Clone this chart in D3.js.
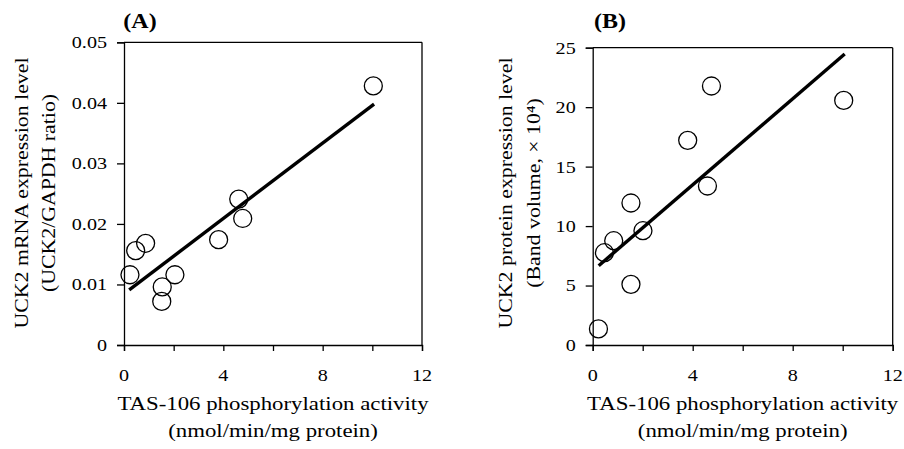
<!DOCTYPE html>
<html>
<head>
<meta charset="utf-8">
<script src="https://cdn.jsdelivr.net/npm/d3@7"></script>
<style>
  html, body { margin: 0; padding: 0; background: #fff; }
  svg { display: block; }
  text { font-family: "Liberation Serif", "Times New Roman", serif; fill: #000; }
</style>
</head>
<body>
<svg id="chart" width="904" height="449"></svg>
<script>
// ---- data ----
const activityA = [0.24, 0.47, 0.87, 1.54, 1.52, 2.05, 3.81, 4.62, 4.78, 10.04];
const mrnaA     = [0.0116, 0.0156, 0.0168, 0.0096, 0.0072, 0.0116, 0.0174, 0.0241, 0.0209, 0.0428];
const fitXA = [0.21, 10.07];
const fitYA = [0.0091, 0.0398];

const activityB = [0.23, 0.47, 0.84, 1.53, 1.53, 2.01, 3.80, 4.59, 4.75, 10.04];
const proteinB  = [1.35, 7.76, 8.77, 11.94, 5.10, 9.61, 17.21, 13.37, 21.78, 20.57];
const fitXB = [0.24, 10.08];
const fitYB = [6.67, 24.47];

const xTicks = [0, 2, 4, 6, 8, 10, 12];
const xTickLabels = ["0", "", "4", "", "8", "", "12"];
const yTicksA = [0, 0.01, 0.02, 0.03, 0.04, 0.05];
const yTickLabelsA = ["0", "0.01", "0.02", "0.03", "0.04", "0.05"];
const yTicksB = [0, 5, 10, 15, 20, 25];
const yTickLabelsB = ["0", "5", "10", "15", "20", "25"];

const panelLabels = ["(A)", "(B)"];
const xTitle = ["TAS-106 phosphorylation activity", "(nmol/min/mg protein)"];
const yTitleA = ["UCK2 mRNA expression level", "(UCK2/GAPDH ratio)"];
const yTitleB = ["UCK2 protein expression level", "(Band volume, \u00d7 10\u2074)"];

// ---- drawing ----
const svg = d3.select("#chart");

function label(g, str, x, y, opts) {
  const o = Object.assign({size: 17, sx: 1.15, rot: 0, anchor: "middle", weight: "normal", dy: 0}, opts || {});
  g.append("text")
    .attr("transform", `translate(${x},${y}) rotate(${o.rot}) scale(${o.sx},1)`)
    .attr("text-anchor", o.anchor)
    .attr("dy", o.dy)
    .style("font-size", o.size + "px")
    .style("font-weight", o.weight)
    .text(str);
}

function panel(cfg) {
  const g = svg.append("g");
  const x = d3.scaleLinear().domain([0, 12]).range([cfg.left, cfg.right]);
  const y = d3.scaleLinear().domain(cfg.yDomain).range([cfg.bottom, cfg.top]);

  // frame top & right
  g.append("line").attr("x1", cfg.left).attr("x2", cfg.right).attr("y1", cfg.top).attr("y2", cfg.top)
    .attr("stroke", "#000").attr("stroke-width", 1.3);
  g.append("line").attr("x1", cfg.right).attr("x2", cfg.right).attr("y1", cfg.top).attr("y2", cfg.bottom)
    .attr("stroke", "#000").attr("stroke-width", 1.3);

  // axes
  const xAxis = d3.axisBottom(x).tickValues(xTicks).tickSize(6).tickFormat("");
  const yAxis = d3.axisLeft(y).tickValues(cfg.yTicks).tickSize(7).tickFormat("");
  const gx = g.append("g").attr("transform", `translate(0,${cfg.bottom})`).call(xAxis);
  const gy = g.append("g").attr("transform", `translate(${cfg.left},0)`).call(yAxis);
  [gx, gy].forEach(a => {
    a.select(".domain").attr("stroke", "#000").attr("stroke-width", 1.3);
    a.selectAll(".tick line").attr("stroke", "#000").attr("stroke-width", 1.3);
  });

  // tick labels
  xTicks.forEach((v, i) => {
    if (xTickLabels[i]) label(g, xTickLabels[i], x(v), 381, {size: 17.5, sx: 1.15});
  });
  cfg.yTicks.forEach((v, i) => {
    label(g, cfg.yTickLabels[i], cfg.left - 17, y(v), {size: 17.5, sx: 1.15, anchor: "end", dy: "0.34em"});
  });

  // regression line
  const lineGen = d3.line().x(d => x(d[0])).y(d => y(d[1]));
  g.append("path")
    .datum(d3.zip(cfg.fitX, cfg.fitY))
    .attr("d", lineGen)
    .attr("fill", "none").attr("stroke", "#000").attr("stroke-width", 3.4);

  // points
  g.selectAll("circle.pt").data(d3.zip(cfg.xs, cfg.ys)).join("circle")
    .attr("class", "pt")
    .attr("cx", d => x(d[0])).attr("cy", d => y(d[1])).attr("r", 9)
    .attr("fill", "none").attr("stroke", "#000").attr("stroke-width", 1.3);

  // titles
  const cx = (cfg.left + cfg.right) / 2;
  label(g, xTitle[0], cx, 410, {size: 19.5, sx: 1.17});
  label(g, xTitle[1], cx, 437, {size: 19.5, sx: 1.17});
  const cy = (cfg.top + cfg.bottom) / 2;
  label(g, cfg.yTitle[0], cfg.yTitleX[0], 193, {size: 19.5, sx: 1.12, rot: -90});
  label(g, cfg.yTitle[1], cfg.yTitleX[1], 193, {size: 19.5, sx: 1.12, rot: -90});

  label(g, cfg.panelLabel, cfg.panelX, 28, {size: 20, sx: 1.2, weight: "bold"});
}

panel({
  left: 124, right: 422, top: 42.3, bottom: 345,
  yDomain: [0, 0.05], yTicks: yTicksA, yTickLabels: yTickLabelsA,
  xs: activityA, ys: mrnaA, fitX: fitXA, fitY: fitYA,
  yTitle: yTitleA, yTitleX: [27.5, 55], panelLabel: panelLabels[0], panelX: 140
});
panel({
  left: 592.7, right: 892.7, top: 47.7, bottom: 345,
  yDomain: [0, 25], yTicks: yTicksB, yTickLabels: yTickLabelsB,
  xs: activityB, ys: proteinB, fitX: fitXB, fitY: fitYB,
  yTitle: yTitleB, yTitleX: [512, 540], panelLabel: panelLabels[1], panelX: 610
});
</script>
</body>
</html>
